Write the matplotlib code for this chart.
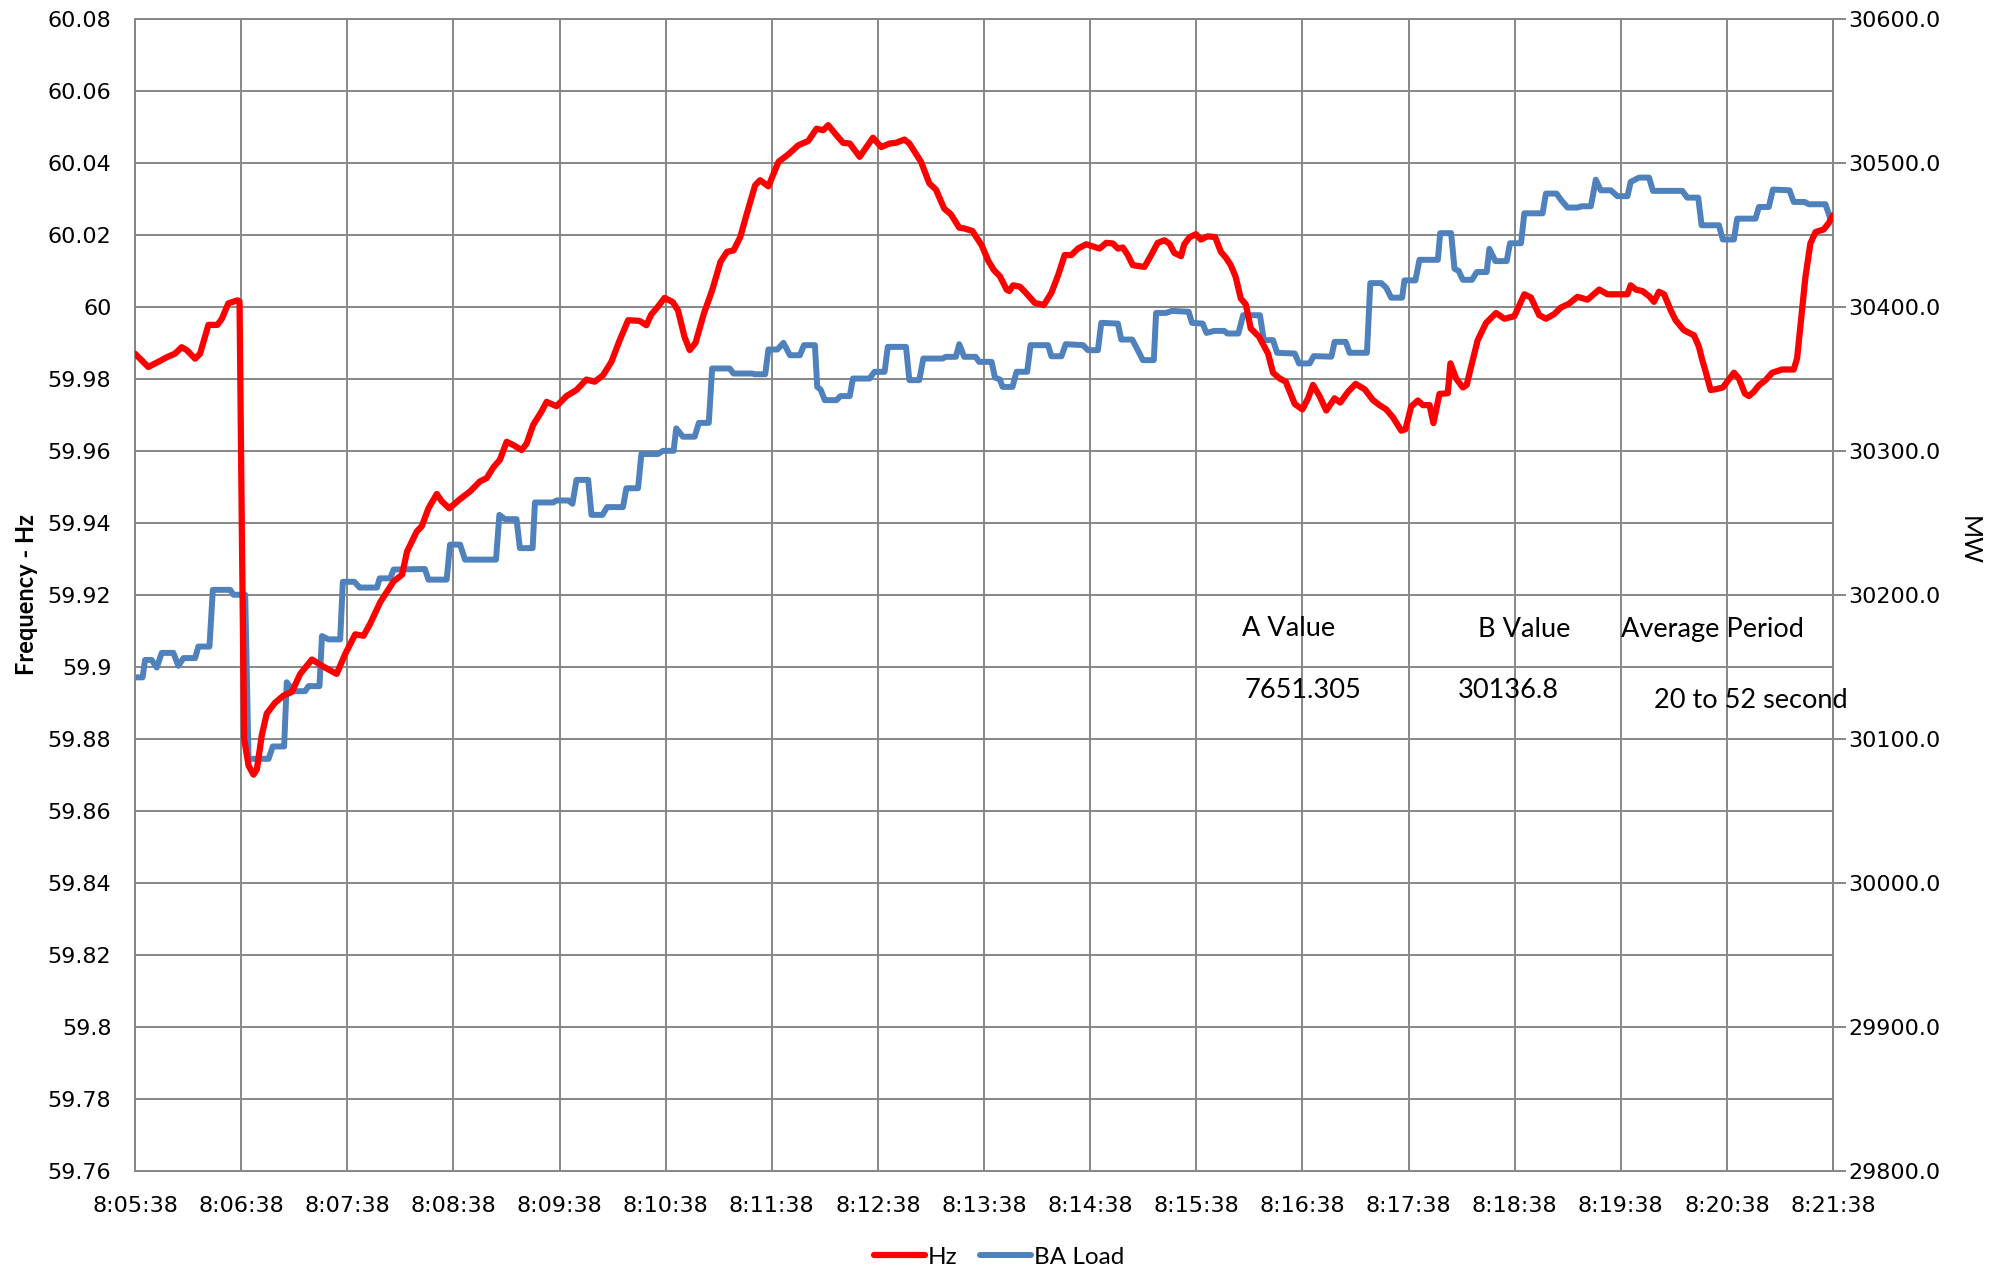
import matplotlib
matplotlib.use("Agg")
import matplotlib.pyplot as plt
from matplotlib.ticker import MultipleLocator, FuncFormatter

# Seconds after 8:05:38 and system frequency (Hz)
hz_sec = [0, 7.5, 14.2, 17.9, 22.6, 26.4, 29.2, 34.0, 36.8, 41.5, 46.6, 49.0, 52.8, 57.9, 59.1,
          60.4, 61.7, 64.2, 67.0, 68.9, 71.7, 74.5, 79.2, 84.0, 88.7, 93.4, 100.0, 106.6, 114.0,
          118.9, 124.5, 129.2, 133.0, 138.7, 146.2, 151.0, 153.8,
          159.3, 162.1, 165.9, 170.6, 173.4, 177.7, 183.8, 189.4, 195.0, 198.8, 202.6, 206.3,
          210.1, 213.9, 218.6, 221.4, 225.1, 229.8, 232.7, 238.3, 243.9, 249.6, 255.2, 259.9,
          264.6, 269.3, 274.0, 278.8, 285.3, 289.1, 291.9, 295.7, 299.4, 304.1, 307.0, 310.7, 313.6,
          316.9, 321.6, 326.3, 331.0, 334.7, 338.4, 342.2, 345.9, 350.6, 353.4, 358.1, 363.8,
          369.4, 375.0, 380.6, 385.3, 389.1, 391.9, 396.6, 400.3, 404.1, 409.7, 413.4, 417.2,
          421.9, 426.6, 430.3, 435.0, 437.8, 444.4, 449.1, 452.8, 457.5, 461.3, 466.0, 468.8, 473.4,
          478.7, 482.4, 485.6, 489.0, 492.8, 494.3, 496.5, 500.3, 503.1, 508.7, 513.8, 518.1,
          521.9, 525.6, 529.4, 533.1, 537.8, 545.3, 549.1, 552.9, 555.7, 558.5, 561.3, 564.1,
          570.7, 574.5, 578.2, 582.0, 584.8, 587.6, 591.4, 593.2, 596.1, 599.8, 602.6, 606.4,
          610.7, 613.9, 616.7, 619.5, 622.3, 625.2, 628.0, 630.8, 635.5,
          640.6, 643.4, 647.2, 650.6, 652.9, 655.7, 660.0, 663.2, 666.0, 669.8, 673.5, 678.2,
          681.4, 685.8, 690.1, 695.2, 699.9, 703.6, 707.4, 711.2, 715.9, 718.3, 721.5, 725.3,
          728.1, 731.9, 734.1, 737.5, 742.2, 743.7, 746.9, 750.7, 752.9, 755.4, 759.1, 763.8,
          769.5, 774.2, 779.8, 785.5, 789.2, 793.9, 797.7,
          802.4, 806.1, 810.8, 815.5, 821.2, 827.8, 832.5, 839.1, 843.8, 845.6, 848.5, 852.2,
          856.0, 858.8, 861.6, 864.5, 868.2, 871.0, 875.7, 881.4, 884.2, 886.1, 888.0, 890.8,
          893.6, 897.7, 900.8, 904.0, 906.8, 910.2, 912.4, 915.2, 918.1, 921.8, 925.6, 931.2,
          937.8, 939.7, 942.5, 944.4, 947.2, 950.1, 954.7, 957.6, 960.0]
hz_val = [59.987, 59.9833, 59.985, 59.986, 59.987, 59.9888, 59.988, 59.9856, 59.987, 59.995, 59.995,
          59.9966, 60.001, 60.0018, 60.0015,
          59.938, 59.880, 59.8725, 59.870, 59.8715, 59.881, 59.887, 59.890, 59.892, 59.893, 59.898,
          59.902, 59.900, 59.898, 59.9036, 59.909, 59.9086, 59.912, 59.918, 59.9237, 59.9256, 59.932,
          59.9376, 59.939, 59.944, 59.948, 59.946, 59.944, 59.9466, 59.9487, 59.9515, 59.9524,
          59.9554, 59.9575, 59.9625, 59.9616, 59.9602, 59.962, 59.9672, 59.9709, 59.9736, 59.9724,
          59.9752, 59.9769, 59.9798, 59.9792, 59.981, 59.9847, 59.9907, 59.9963, 59.9961, 59.9949,
          59.9979, 60.0001, 60.0025, 60.0013, 59.999, 59.9916, 59.988,
          59.990, 59.9981, 60.0046, 60.0125, 60.0153, 60.0157, 60.0194, 60.0259, 60.0338, 60.0352,
          60.0335, 60.0403, 60.0424, 60.0449, 60.0461, 60.0495, 60.0491, 60.0505, 60.0477, 60.0456,
          60.0454, 60.0417, 60.0443, 60.047, 60.0444, 60.0454, 60.0456, 60.0465, 60.0454, 60.0403,
          60.0343, 60.0326, 60.0273, 60.0257, 60.022, 60.0218, 60.0211,
          60.0171, 60.0128, 60.0102, 60.0085, 60.0048, 60.0044, 60.006, 60.0056, 60.0042, 60.0011,
          60.0005, 60.0039, 60.0088, 60.0144, 60.0144, 60.0162, 60.0174, 60.0162, 60.0178, 60.0176,
          60.0162, 60.0165, 60.0144, 60.0116, 60.0111, 60.0144, 60.0178, 60.0185, 60.0176, 60.015,
          60.0141, 60.0174, 60.0193, 60.0202, 60.0187, 60.0196, 60.0194, 60.0153, 60.0137, 60.0116,
          60.0083, 60.0023, 60.0007, 59.994, 59.9917,
          59.987, 59.9817, 59.9801, 59.9792, 59.9764, 59.973, 59.9715, 59.9746, 59.9783, 59.9751,
          59.9712, 59.9746, 59.9734, 59.9764, 59.9786, 59.9771, 59.9741, 59.9727, 59.9715, 59.9693,
          59.9656, 59.966, 59.9723, 59.974, 59.9727, 59.9727, 59.9677, 59.9758, 59.976, 59.9843,
          59.9801, 59.9776, 59.9783, 59.9834, 59.9907, 59.9955, 59.9983, 59.9967, 59.9974, 60.0035,
          60.0026, 59.9977, 59.9967,
          59.998, 59.9998, 60.0009, 60.0028, 60.002, 60.0048, 60.0035, 60.0035, 60.0035, 60.006,
          60.0048, 60.0044, 60.003, 60.0014, 60.0042, 60.0035, 59.9991, 59.9963, 59.9935, 59.9921,
          59.9889, 59.9852, 59.982, 59.9769, 59.9771, 59.9776, 59.9796, 59.9817, 59.9801, 59.9759,
          59.9752, 59.9764, 59.9782, 59.9796, 59.9817, 59.9826, 59.9826, 59.9857, 59.9991, 60.0083,
          60.0176, 60.0208, 60.0215, 60.0233, 60.0255]

# Seconds after 8:05:38 and balancing-authority load (MW)
load_sec = [0, 4.3, 5.7, 9.4, 12.3, 15.1, 21.7, 24.5, 27.4, 34.0, 35.8, 42.1, 44.0, 53.8, 55.7,
            62.3, 64.2, 75.5, 77.9, 84.3, 85.8, 89.6, 96.2, 98.1, 104.3, 105.7, 109.4, 116.0,
            117.5, 124.0, 127.0, 136.8, 138.3, 144.3, 146.2, 163.9, 165.9, 176.2, 178.1, 183.8,
            186.6, 204.1, 206.0, 209.2, 215.7, 217.6, 224.8, 226.1, 236.4, 238.3, 245.0, 247.3,
            249.6, 256.2, 258.1, 264.3, 266.9, 275.9, 277.8, 284.4, 286.3, 295.7, 298.5, 304.5,
            306.0, 309.8, 316.4, 318.8, 324.4, 326.3, 336.2, 338.4, 348.8, 350.6, 356.3, 358.1,
            363.2, 366.6, 370.3, 375.9, 378.2, 384.4, 385.7, 387.6, 390.0, 396.6, 398.8, 404.1,
            405.9, 415.3, 418.1, 423.8, 425.6, 435.9, 437.8, 443.4, 445.7, 456.6, 458.4, 464.1,
            466.0, 468.8, 475.3, 477.2, 484.3, 486.2, 489.0, 490.5, 496.1, 498.4, 504.4, 506.3,
            516.2, 518.1, 523.8, 526.2, 536.0, 538.8, 544.4, 546.3, 555.7, 557.6, 563.8, 566.0,
            569.8, 576.0, 577.3, 582.9, 586.3, 595.7, 597.6, 603.6, 605.8, 610.1, 615.8, 617.6,
            623.8, 626.5, 636.0, 638.2, 643.4, 645.7, 655.7, 658.1, 664.1, 666.4, 676.4, 678.2,
            684.5, 686.7, 696.5, 698.4, 704.6, 707.4, 710.2, 716.4, 717.7, 723.9, 726.2, 736.6,
            737.9, 744.1, 746.0, 748.4, 750.7, 755.9, 758.6, 764.2, 765.7, 769.1, 775.5, 777.4,
            783.6, 785.5, 795.8, 797.7, 803.7, 806.1, 809.9, 815.5, 818.0, 823.1, 825.9, 828.7,
            834.4, 838.1, 843.8, 845.6, 850.3, 856.0, 858.2, 874.8, 877.6, 883.8, 885.7, 895.5,
            897.7, 904.0, 905.8, 916.2, 918.1, 923.7, 926.0, 935.4, 937.8, 944.0, 946.3, 955.7,
            958.5, 960.0]
load_mw = [30142.6, 30142.6, 30154.7, 30154.7, 30149.4, 30159.6, 30159.6, 30150.6, 30156.0, 30156.0,
           30164.0, 30164.0, 30203.4, 30203.4, 30200.0, 30200.0, 30086.0, 30086.0, 30094.6, 30094.6,
           30139.2, 30133.0, 30133.0, 30136.5, 30136.5, 30171.3, 30169.0, 30169.0, 30209.0, 30209.0,
           30205.0, 30205.0, 30211.4, 30211.4, 30217.5, 30217.9, 30210.5, 30210.5, 30234.8, 30234.8,
           30224.4, 30224.4, 30255.5, 30252.5, 30252.5, 30232.4, 30232.4, 30264.1, 30264.1, 30265.5,
           30265.5, 30263.2, 30279.8, 30279.8, 30255.5, 30255.5, 30260.9, 30260.9, 30274.0, 30274.0,
           30297.8, 30297.8, 30300.0, 30300.0, 30315.6, 30309.8, 30309.8, 30319.4, 30319.4, 30357.2,
           30357.2, 30353.7, 30353.7, 30353.2, 30353.2, 30370.4, 30370.4, 30375.0, 30366.4, 30366.4,
           30373.4, 30373.4, 30344.4, 30342.6, 30335.2, 30335.2, 30338.0, 30338.0, 30350.2, 30350.2,
           30354.9, 30354.9, 30372.2, 30372.2, 30349.1, 30349.1, 30364.1, 30364.1, 30365.3, 30365.3,
           30374.1, 30365.3, 30365.3, 30361.8, 30361.8, 30350.9, 30349.5, 30344.4, 30344.4, 30354.9,
           30354.9, 30373.4, 30373.4, 30365.7, 30365.7, 30374.1, 30373.4, 30369.9, 30369.9, 30388.9,
           30388.4, 30377.3, 30377.3, 30372.2, 30363.0, 30363.0, 30395.8, 30395.8, 30397.2, 30396.6,
           30388.9, 30388.4, 30381.9, 30383.3, 30383.3, 30381.5, 30381.5, 30394.2, 30394.2, 30376.9,
           30376.9, 30368.1, 30367.6, 30360.7, 30360.7, 30365.8, 30365.4, 30375.7, 30375.7, 30368.1,
           30368.1, 30416.5, 30416.5, 30413.3, 30406.4, 30406.4, 30418.4, 30418.4, 30432.7, 30432.7,
           30451.2, 30451.2, 30426.5, 30424.9, 30418.8, 30418.8, 30424.2, 30424.2, 30440.3, 30431.8,
           30431.8, 30444.2, 30444.2, 30465.0, 30465.0, 30478.7, 30478.7, 30474.5, 30469.0, 30469.0,
           30469.9, 30469.9, 30488.4, 30481.0, 30481.0, 30476.9, 30476.9, 30486.8, 30489.8, 30489.8,
           30480.6, 30480.6, 30475.9, 30475.9, 30456.7, 30456.7, 30446.8, 30446.8, 30461.3, 30461.3,
           30469.4, 30469.4, 30481.5, 30481.0, 30472.9, 30472.9, 30471.3, 30471.3, 30461.3, 30461.3]

time_labels = ["8:05:38", "8:06:38", "8:07:38", "8:08:38", "8:09:38", "8:10:38", "8:11:38",
               "8:12:38", "8:13:38", "8:14:38", "8:15:38", "8:16:38", "8:17:38", "8:18:38",
               "8:19:38", "8:20:38", "8:21:38"]

header_texts = ["A Value", "B Value", "Average Period"]
value_texts = ["7651.305", "30136.8", "20 to 52 second"]

GRID = "#878787"
RED = "#FF0000"
BLUE = "#4F81BD"
TEXT_FONT = ["Lato", "DejaVu Sans"]

fig = plt.figure(figsize=(19.95, 12.75), dpi=100)
fig.patch.set_facecolor("white")

ax = fig.add_axes([0.06767, 0.08196, 0.85113, 0.90314])
ax.set_xlim(0, 960)
ax.set_ylim(59.76, 60.08)
ax.set_xticks([60 * i for i in range(len(time_labels))])
ax.set_xticklabels(time_labels)
ax.yaxis.set_major_locator(MultipleLocator(0.02))
ax.yaxis.set_major_formatter(FuncFormatter(
    lambda v, p: f"{v:.2f}".rstrip("0").rstrip(".")))
ax.grid(True, color=GRID, lw=1.4)
ax.set_axisbelow(True)
for s in ax.spines.values():
    s.set_color(GRID)
    s.set_linewidth(1.4)
ax.tick_params(axis="y", length=0, labelsize=16, pad=17)
ax.tick_params(axis="x", length=0, labelsize=16, pad=18.5)
ax.set_ylabel("Frequency - Hz", fontsize=17, fontweight="bold", family=TEXT_FONT)
ax.yaxis.set_label_coords(-0.057, 0.5)

# Load on the secondary axis
ax2 = ax.twinx()
ax2.set_ylim(29800, 30600)
ax2.yaxis.set_major_locator(MultipleLocator(100))
ax2.yaxis.set_major_formatter(FuncFormatter(lambda v, p: f"{v:.1f}"))
ax2.tick_params(axis="y", length=9, width=1.4, color=GRID, labelsize=16, pad=2)
for s in ax2.spines.values():
    s.set_color(GRID)
    s.set_linewidth(1.4)
blue_line, = ax2.plot(load_sec, load_mw, color=BLUE, lw=4.3,
                      solid_joinstyle="round", solid_capstyle="round")
ax2.set_ylabel("MW", fontsize=18, family=TEXT_FONT, rotation=270)
ax2.yaxis.set_label_coords(1.087, 0.5467)

# Frequency drawn above the load line
ax3 = ax.twinx()
ax3.set_ylim(59.76, 60.08)
ax3.axis("off")
red_line, = ax3.plot(hz_sec, hz_val, color=RED, lw=4.5,
                     solid_joinstyle="round", solid_capstyle="round")

# Text boxes with the computed parameters
header_pos = [(0.6226, 0.5071), (0.7409, 0.5059), (0.8125, 0.5059)]
value_pos = [(0.6236, 0.4588), (0.7308, 0.4588), (0.8291, 0.4502)]
for txt, (x, y) in zip(header_texts, header_pos):
    fig.text(x, y, txt, ha="left", va="center", fontsize=19.5, family=TEXT_FONT)
for txt, (x, y) in zip(value_texts, value_pos):
    fig.text(x, y, txt, ha="left", va="center", fontsize=19.5, family=TEXT_FONT)

fig.legend([red_line, blue_line], ["Hz", "BA Load"], loc="center",
           bbox_to_anchor=(0.5008, 0.0141), ncol=2, frameon=False,
           prop={"family": TEXT_FONT, "size": 17.5}, handlelength=2.1,
           handletextpad=0.15, columnspacing=0.9)

fig.savefig("out.png", dpi=100)
